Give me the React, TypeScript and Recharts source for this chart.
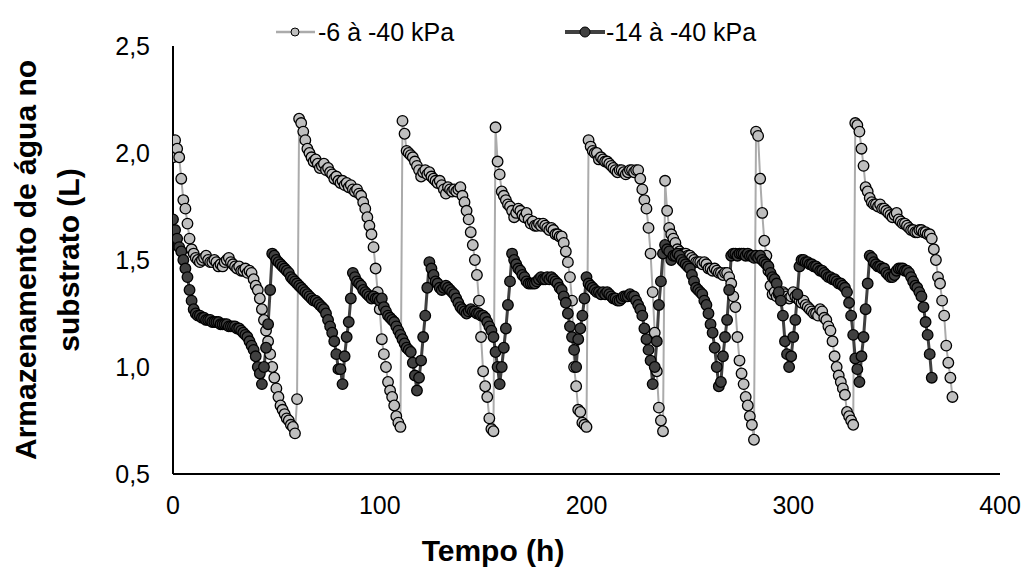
import React from 'react';
import { LineChart, Line, XAxis, YAxis } from 'recharts';

// Series "-6 à -40 kPa" — one value per hour, starting at 0 h
const S1_VALUES: number[] = [
  1.98, 2.06, 2.02, 1.98, 1.88, 1.78, 1.74, 1.67, 1.60, 1.55,
  1.53, 1.51, 1.50, 1.49, 1.50, 1.51, 1.52, 1.50, 1.49, 1.49,
  1.50, 1.49, 1.47, 1.48, 1.47, 1.49, 1.50, 1.51, 1.49, 1.48,
  1.47, 1.46, 1.47, 1.45, 1.45, 1.46, 1.44, 1.45, 1.44, 1.41,
  1.38, 1.36, 1.32, 1.27, 1.22, 1.17, 1.12, 1.06, 1.00, 0.95,
  0.90, 0.86, 0.82, 0.80, 0.78, 0.76, 0.75, 0.73, 0.72, 0.69,
  0.85, 2.16, 2.14, 2.10, 2.06, 2.02, 2.00, 1.98, 1.96, 1.97,
  1.95, 1.93, 1.94, 1.95, 1.92, 1.93, 1.91, 1.90, 1.88, 1.89,
  1.87, 1.86, 1.87, 1.85, 1.86, 1.84, 1.85, 1.83, 1.82, 1.83,
  1.81, 1.80, 1.77, 1.74, 1.70, 1.66, 1.62, 1.56, 1.46, 1.35,
  1.27, 1.13, 1.06, 1.00, 0.93, 0.89, 0.86, 0.82, 0.77, 0.74,
  0.72, 2.15, 2.09, 2.01, 2.00, 1.99, 1.98, 1.96, 1.94, 1.92,
  1.89, 1.91, 1.92, 1.90, 1.91, 1.89, 1.88, 1.87, 1.86, 1.87,
  1.85, 1.83, 1.81, 1.84, 1.83, 1.82, 1.83, 1.82, 1.83, 1.84,
  1.80, 1.77, 1.73, 1.69, 1.63, 1.57, 1.50, 1.43, 1.31, 1.14,
  0.98, 0.91, 0.86, 0.76, 0.71, 0.70, 2.12, 1.96, 1.90, 1.82,
  1.80, 1.78, 1.76, 1.75, 1.73, 1.70, 1.72, 1.74, 1.73, 1.71,
  1.70, 1.72, 1.69, 1.67, 1.68, 1.66, 1.66, 1.67, 1.66, 1.67,
  1.66, 1.65, 1.64, 1.65, 1.64, 1.62, 1.62, 1.61, 1.61, 1.58,
  1.54, 1.49, 1.42, 1.31, 1.00, 0.91, 0.80, 0.79, 0.74, 0.73,
  0.72, 2.06, 2.03, 2.01, 2.00, 2.00, 1.97, 1.98, 1.97, 1.96,
  1.96, 1.95, 1.94, 1.93, 1.92, 1.91, 1.92, 1.92, 1.91, 1.90,
  1.91, 1.92, 1.92, 1.91, 1.92, 1.92, 1.88, 1.83, 1.78, 1.74,
  1.65, 1.53, 1.35, 1.16, 0.98, 0.81, 0.75, 0.70, 1.87, 1.73,
  1.65, 1.62, 1.60, 1.58, 1.55, 1.54, 1.53, 1.53, 1.53, 1.52,
  1.52, 1.51, 1.50, 1.49, 1.49, 1.49, 1.48, 1.49, 1.48, 1.46,
  1.46, 1.45, 1.46, 1.45, 1.44, 1.44, 1.43, 1.44, 1.44, 1.42,
  1.39, 1.33, 1.28, 1.14, 1.03, 0.97, 0.92, 0.86, 0.82, 0.77,
  0.73, 0.66, 2.10, 2.08, 1.88, 1.72, 1.59, 1.52, 1.45, 1.38,
  1.34, 1.35, 1.33, 1.34, 1.33, 1.35, 1.34, 1.33, 1.32, 1.33,
  1.35, 1.33, 1.32, 1.31, 1.30, 1.31, 1.29, 1.28, 1.27, 1.26,
  1.25, 1.25, 1.24, 1.27, 1.26, 1.23, 1.22, 1.19, 1.17, 1.12,
  1.05, 1.00, 0.96, 0.93, 0.90, 0.87, 0.79, 0.77, 0.75, 0.73,
  2.14, 2.13, 2.10, 2.02, 1.94, 1.84, 1.82, 1.79, 1.77, 1.76,
  1.76, 1.75, 1.76, 1.74, 1.74, 1.73, 1.72, 1.71, 1.70, 1.71,
  1.72, 1.69, 1.68, 1.67, 1.67, 1.66, 1.65, 1.64, 1.64, 1.63,
  1.63, 1.64, 1.64, 1.63, 1.63, 1.62, 1.62, 1.60, 1.55, 1.50,
  1.42, 1.39, 1.31, 1.24, 1.10, 1.02, 0.95, 0.86,
];

// Series "-14 à -40 kPa" — one value per hour, starting at 0 h
const S2_VALUES: number[] = [
  1.69, 1.64, 1.60, 1.56, 1.54, 1.50, 1.46, 1.42, 1.36, 1.31,
  1.27, 1.25, 1.24, 1.24, 1.23, 1.23, 1.22, 1.22, 1.22, 1.21,
  1.21, 1.21, 1.21, 1.20, 1.20, 1.20, 1.20, 1.19, 1.19, 1.19,
  1.19, 1.18, 1.18, 1.17, 1.16, 1.15, 1.14, 1.12, 1.10, 1.08,
  1.05, 1.00, 0.97, 0.92, 1.00, 1.09, 1.20, 1.36, 1.53, 1.52,
  1.50, 1.49, 1.48, 1.47, 1.46, 1.45, 1.44, 1.42, 1.41, 1.40,
  1.39, 1.38, 1.37, 1.36, 1.35, 1.34, 1.33, 1.32, 1.31, 1.31,
  1.30, 1.29, 1.28, 1.27, 1.25, 1.22, 1.19, 1.16, 1.12, 1.06,
  0.99, 0.99, 0.92, 1.05, 1.14, 1.21, 1.32, 1.44, 1.42, 1.40,
  1.39, 1.38, 1.36, 1.35, 1.34, 1.33, 1.32, 1.33, 1.32, 1.32,
  1.31, 1.32, 1.28, 1.26, 1.24, 1.23, 1.22, 1.21, 1.19, 1.17,
  1.15, 1.13, 1.11, 1.09, 1.08, 1.07, 1.02, 0.96, 0.89, 0.95,
  1.03, 1.14, 1.24, 1.37, 1.49, 1.46, 1.43, 1.40, 1.39, 1.37,
  1.36, 1.37, 1.38, 1.37, 1.36, 1.35, 1.34, 1.32, 1.30, 1.28,
  1.27, 1.26, 1.25, 1.26, 1.27, 1.26, 1.26, 1.25, 1.25, 1.24,
  1.24, 1.23, 1.21, 1.19, 1.17, 1.14, 1.07, 1.00, 0.92, 1.00,
  1.09, 1.18, 1.29, 1.40, 1.53, 1.50, 1.48, 1.46, 1.45, 1.43,
  1.42, 1.40, 1.39, 1.39, 1.39, 1.39, 1.40, 1.41, 1.42, 1.41,
  1.41, 1.42, 1.41, 1.42, 1.41, 1.40, 1.39, 1.37, 1.36, 1.33,
  1.30, 1.25, 1.19, 1.14, 1.08, 1.00, 1.13, 1.18, 1.24, 1.32,
  1.42, 1.39, 1.38, 1.37, 1.36, 1.35, 1.35, 1.34, 1.35, 1.34,
  1.35, 1.34, 1.33, 1.32, 1.32, 1.31, 1.31, 1.32, 1.33, 1.33,
  1.33, 1.34, 1.33, 1.33, 1.31, 1.29, 1.27, 1.24, 1.18, 1.13,
  1.08, 1.03, 0.92, 1.00, 1.12, 1.29, 1.40, 1.53, 1.57, 1.55,
  1.54, 1.50, 1.52, 1.52, 1.53, 1.52, 1.50, 1.49, 1.48, 1.47,
  1.46, 1.43, 1.40, 1.37, 1.36, 1.35, 1.34, 1.31, 1.29, 1.25,
  1.20, 1.16, 1.09, 1.00, 0.91, 0.93, 1.05, 1.14, 1.22, 1.36,
  1.52, 1.53, 1.53, 1.52, 1.53, 1.53, 1.53, 1.52, 1.53, 1.52,
  1.52, 1.51, 1.52, 1.51, 1.52, 1.50, 1.49, 1.48, 1.47, 1.44,
  1.42, 1.41, 1.39, 1.35, 1.31, 1.24, 1.12, 1.06, 1.00, 1.05,
  1.14, 1.22, 1.34, 1.47, 1.50, 1.50, 1.49, 1.49, 1.48, 1.48,
  1.47, 1.47, 1.46, 1.45, 1.45, 1.44, 1.43, 1.42, 1.42, 1.41,
  1.41, 1.40, 1.39, 1.39, 1.38, 1.37, 1.35, 1.30, 1.24, 1.15,
  1.04, 0.99, 0.93, 1.05, 1.14, 1.27, 1.39, 1.52, 1.51, 1.49,
  1.48, 1.47, 1.47, 1.46, 1.46, 1.44, 1.43, 1.42, 1.42, 1.43,
  1.45, 1.46, 1.46, 1.46, 1.45, 1.45, 1.44, 1.42, 1.40, 1.38,
  1.37, 1.35, 1.33, 1.28, 1.21, 1.15, 1.06, 0.95,
];

const SERIES_NAMES = ['-6 à -40 kPa', '-14 à -40 kPa'];
const X_TICKS = [0, 100, 200, 300, 400];
const Y_TICKS = [0.5, 1.0, 1.5, 2.0, 2.5];
const X_TITLE = 'Tempo (h)';
const Y_TITLE_LINES = ['Armazenamento de água no', 'substrato (L)'];

const dataA = S1_VALUES.map((v, i) => ({ t: i, v }));
const dataB = S2_VALUES.map((v, i) => ({ t: i, v }));

const FONT = '"Liberation Sans", Arial, Helvetica, sans-serif';
const LIGHT_FILL = '#BFBFBF';
const LIGHT_LINE = '#ABABAB';
const DARK_FILL = '#404040';
const DARK_LINE = '#404040';

export default function App() {
  return (
    <div
      style={{
        position: 'absolute',
        left: 0,
        top: 0,
        width: 1024,
        height: 572,
        background: '#ffffff',
        fontFamily: FONT,
      }}
    >
      <LineChart width={1024} height={572} margin={{ top: 46, right: 24, bottom: 0, left: 0 }}>
        <XAxis
          type="number"
          dataKey="t"
          domain={[0, 400]}
          ticks={X_TICKS}
          allowDataOverflow
          height={98}
          tickLine={false}
          tickSize={0}
          tickMargin={22}
          axisLine={{ stroke: '#000', strokeWidth: 2 }}
          tick={{ fill: '#000', fontSize: 25, fontFamily: FONT }}
        />
        <YAxis
          type="number"
          domain={[0.5, 2.5]}
          ticks={Y_TICKS}
          allowDataOverflow
          width={173}
          tickLine={false}
          tickSize={0}
          tickMargin={23}
          axisLine={{ stroke: '#000', strokeWidth: 2 }}
          tick={{ fill: '#000', fontSize: 25, fontFamily: FONT }}
          tickFormatter={(v: number) => v.toFixed(1).replace('.', ',')}
        />
        <Line
          data={dataA}
          dataKey="v"
          name={SERIES_NAMES[0]}
          type="linear"
          stroke={LIGHT_LINE}
          strokeWidth={2}
          dot={{ r: 5.3, fill: LIGHT_FILL, stroke: '#000', strokeWidth: 1.3 }}
          activeDot={false}
          isAnimationActive={false}
        />
        <Line
          data={dataB}
          dataKey="v"
          name={SERIES_NAMES[1]}
          type="linear"
          stroke={DARK_LINE}
          strokeWidth={3}
          dot={{ r: 5.3, fill: DARK_FILL, stroke: '#000', strokeWidth: 1.3 }}
          activeDot={false}
          isAnimationActive={false}
        />
      </LineChart>
      <svg
        width={1024}
        height={572}
        style={{ position: 'absolute', left: 0, top: 0, pointerEvents: 'none' }}
      >
        {/* legend */}
        <line x1={276} y1={32} x2={315} y2={32} stroke={LIGHT_LINE} strokeWidth={2.5} />
        <circle cx={295} cy={32} r={4} fill={LIGHT_FILL} stroke="#000" strokeWidth={1} />
        <text x={318} y={41} fontSize={25} fontFamily={FONT} fill="#000">
          {SERIES_NAMES[0]}
        </text>
        <line x1={565} y1={32} x2={605} y2={32} stroke={DARK_LINE} strokeWidth={4} />
        <circle cx={585} cy={32} r={5} fill={DARK_FILL} stroke="#000" strokeWidth={1} />
        <text x={606} y={41} fontSize={25} fontFamily={FONT} fill="#000">
          {SERIES_NAMES[1]}
        </text>
        {/* axis titles */}
        <text
          transform="translate(36,260) rotate(-90)"
          textAnchor="middle"
          fontSize={30}
          fontWeight="bold"
          fontFamily={FONT}
          fill="#000"
        >
          {Y_TITLE_LINES[0]}
        </text>
        <text
          transform="translate(79,260) rotate(-90)"
          textAnchor="middle"
          fontSize={30}
          fontWeight="bold"
          fontFamily={FONT}
          fill="#000"
        >
          {Y_TITLE_LINES[1]}
        </text>
        <text x={493} y={561} textAnchor="middle" fontSize={30} fontWeight="bold" fontFamily={FONT} fill="#000">
          {X_TITLE}
        </text>
      </svg>
    </div>
  );
}
